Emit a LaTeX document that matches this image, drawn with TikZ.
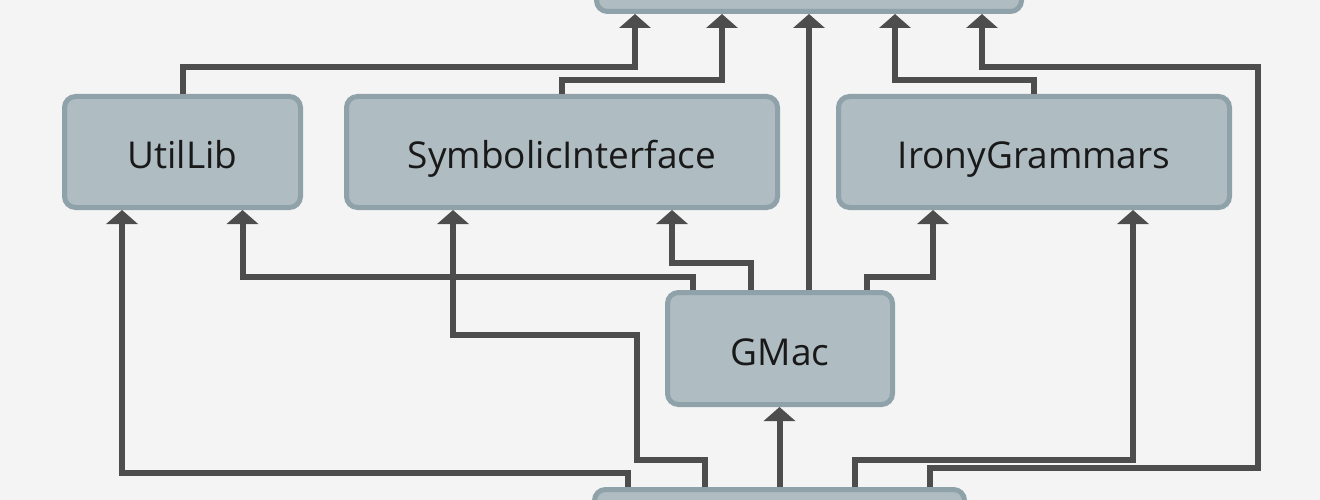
\documentclass[tikz,border=0pt]{standalone}
\usepackage{fontspec}
\setmainfont{Open Sans}
\usetikzlibrary{arrows.meta}
\definecolor{bgc}{HTML}{F4F4F4}
\definecolor{boxfill}{HTML}{AFBCC1}
\definecolor{boxline}{HTML}{8FA2A9}
\definecolor{linec}{HTML}{4D4D4D}
\tikzset{
  box/.style={draw=boxline, fill=boxfill, line width=5pt, rounded corners=11pt,
    minimum height=111pt, font=\fontsize{37}{42}\selectfont, text=black!90, inner sep=0pt,
    text height=33pt, text depth=0pt},
  arr/.style={draw=linec, line width=6pt, -{Triangle[width=31pt,length=14pt]}}
}
\begin{document}
\begin{tikzpicture}[x=1pt,y=-1pt]
\fill[bgc] (0,0) rectangle (1320,500);
\useasboundingbox (0,0) rectangle (1320,500);
\begin{scope}
\clip (0,0) rectangle (1320,500);
\node[box, minimum width=425pt] (top) at (809,-44) {};
\node[box, minimum width=236pt] (util) at (182.5,152) {UtilLib};
\node[box, minimum width=431pt] (sym) at (562,152) {SymbolicInterface};
\node[box, minimum width=391pt] (irony) at (1034,152) {IronyGrammars};
\node[box, minimum width=225pt, minimum height=112pt] (gmac) at (780,348.5) {GMac};
\node[box, minimum width=370pt] (bot) at (779.5,545) {};

\draw[arr] (util.north) -- ++(0,-27) -| ([xshift=-174pt]top.south);
\draw[arr] (sym.north) -- ++(0,-14) -| ([xshift=-87pt]top.south);
\draw[arr] (top.south |- gmac.north) -- (top.south);
\draw[arr] (irony.north) -- ++(0,-14) -| ([xshift=86pt]top.south);
\draw[arr] ([xshift=150pt]bot.north) -- ++(0,-19) -| (1258,67) -| ([xshift=173pt]top.south);

\draw[arr] ([xshift=75.5pt]bot.north) -- ++(0,-27) -| ([xshift=99pt]irony.south);
\draw[arr] (bot.north) -- (bot.north |- gmac.south);
\draw[arr] ([xshift=-74.5pt]bot.north) -- ++(0,-27) -| (637,335) -| ([xshift=-109pt]sym.south);
\draw[arr] ([xshift=-151.5pt]bot.north) -- ++(0,-14) -| ([xshift=-60.5pt]util.south);

\draw[arr] ([xshift=-87pt]gmac.north) -- ++(0,-13) -| ([xshift=60pt]util.south);
\draw[arr] ([xshift=-29pt]gmac.north) -- ++(0,-27) -| ([xshift=110pt]sym.south);
\draw[arr] ([xshift=87pt]gmac.north) -- ++(0,-13) -| ([xshift=-101pt]irony.south);
\end{scope}
\end{tikzpicture}
\end{document}
